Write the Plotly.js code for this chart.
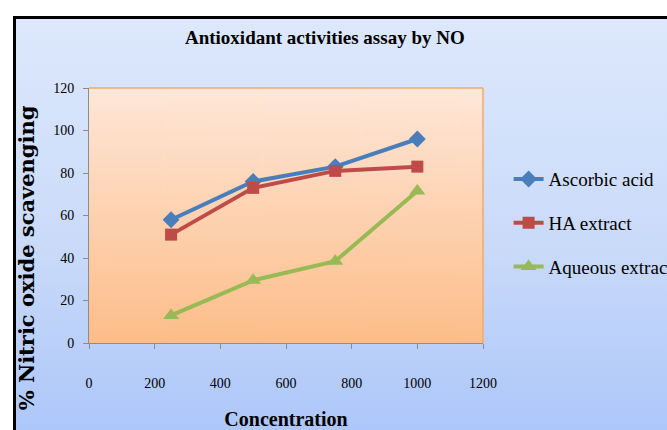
<!DOCTYPE html>
<html>
<head>
<meta charset="utf-8">
<script src="https://cdn.plot.ly/plotly-3.0.1.min.js"></script>
<style>
  html, body { margin: 0; padding: 0; background: #ffffff; width: 667px; height: 430px; overflow: hidden; }
  #frame {
    position: absolute; left: 13px; top: 16px; width: 700px; height: 460px;
    border-left: 3px solid #000; border-top: 3px solid #000;
    background: linear-gradient(to bottom, #dde8fc 0%, #c9daf9 50%, #a6c2fa 100%);
  }
  #chart { position: absolute; left: 0; top: 0; width: 667px; height: 430px; }
</style>
</head>
<body>
<div id="frame"></div>
<div id="chart"></div>
<script>
const concentration = [250, 500, 750, 1000];
const ascorbicAcid = [58, 76, 83, 96];
const haExtract = [51, 73, 81, 83];
const aqueousExtract = [13, 29.5, 38.5, 71.5];
const xTicks = [0, 200, 400, 600, 800, 1000, 1200];
const yTicks = [0, 20, 40, 60, 80, 100, 120];

function gradientURL(top, bottom) {
  const c = document.createElement('canvas');
  c.width = 8; c.height = 256;
  const g = c.getContext('2d');
  const gr = g.createLinearGradient(0, 0, 0, 256);
  gr.addColorStop(0, top);
  gr.addColorStop(1, bottom);
  g.fillStyle = gr;
  g.fillRect(0, 0, 8, 256);
  return c.toDataURL('image/png');
}

const serif = 'Liberation Serif';

const traces = [
  { x: concentration, y: ascorbicAcid, name: 'Ascorbic acid', legendgroup: 'a',
    mode: 'lines+markers', line: { color: '#4a7ebb', width: 4 },
    marker: { symbol: 'diamond', size: 13, color: '#4a7ebb' } },
  { x: concentration, y: haExtract, name: 'HA extract', legendgroup: 'b',
    mode: 'lines+markers', line: { color: '#be4b48', width: 4 },
    marker: { symbol: 'square', size: 12, color: '#be4b48' } },
  { x: concentration, y: aqueousExtract, name: 'Aqueous extract', legendgroup: 'c',
    mode: 'lines+markers', line: { color: '#98b954', width: 4 },
    marker: { symbol: 'triangle-up', size: 14, color: '#98b954' } }
];

const layout = {
  width: 667, height: 430,
  margin: { l: 89, r: 184, t: 88, b: 87, autoexpand: false },
  paper_bgcolor: 'rgba(0,0,0,0)',
  plot_bgcolor: 'rgba(0,0,0,0)',
  showlegend: true,
  font: { family: serif, color: '#000' },
  title: { text: '<b>Antioxidant activities assay by NO</b>', x: 0.487, xanchor: 'center', y: 0.912, yanchor: 'middle',
           font: { family: serif, size: 19, color: '#000' } },
  xaxis: {
    range: [0, 1200], tickvals: xTicks, ticktext: xTicks.map(String),
    showgrid: false, zeroline: false, showline: true, linecolor: '#8c8c8c', linewidth: 1,
    ticks: 'outside', ticklen: 5, tickcolor: '#8c8c8c', ticklabelstandoff: 22,
    tickfont: { family: serif, size: 14, color: '#000' },
    title: { text: '<b>Concentration</b>', standoff: 24, font: { family: serif, size: 20, color: '#000' } }
  },
  yaxis: {
    range: [0, 120], tickvals: yTicks, ticktext: yTicks.map(String),
    showgrid: false, zeroline: false, showline: true, linecolor: '#8c8c8c', linewidth: 1,
    ticks: 'outside', ticklen: 5, tickcolor: '#8c8c8c', ticklabelstandoff: 6,
    tickfont: { family: serif, size: 14, color: '#000' }
  },
  legend: {
    x: 1.065, xanchor: 'left', y: 0.47, yanchor: 'middle',
    bgcolor: 'rgba(0,0,0,0)', tracegroupgap: 16,
    font: { family: serif, size: 19, color: '#000' }
  },
  annotations: [{
    text: '<b>% Nitric oxide scavenging</b>', textangle: -90,
    xref: 'paper', yref: 'paper', x: -0.158, y: 0.335, xanchor: 'center', yanchor: 'middle',
    showarrow: false, font: { family: 'DejaVu Serif', size: 21, color: '#000' }
  }],
  images: [{
    source: gradientURL('#fee7d8', '#fdbd89'),
    xref: 'paper', yref: 'paper', x: 0, y: 1, sizex: 1, sizey: 1,
    xanchor: 'left', yanchor: 'top', sizing: 'stretch', layer: 'below'
  }],
  shapes: [
    { type: 'line', xref: 'paper', yref: 'paper', x0: 0, x1: 1, y0: 1, y1: 1, line: { color: '#f5a86a', width: 1.5 }, layer: 'below' },
    { type: 'line', xref: 'paper', yref: 'paper', x0: 1, x1: 1, y0: 0, y1: 1, line: { color: '#f5a86a', width: 1.5 }, layer: 'below' }
  ]
};

Plotly.newPlot('chart', traces, layout, { displayModeBar: false, staticPlot: true });
</script>
</body>
</html>
